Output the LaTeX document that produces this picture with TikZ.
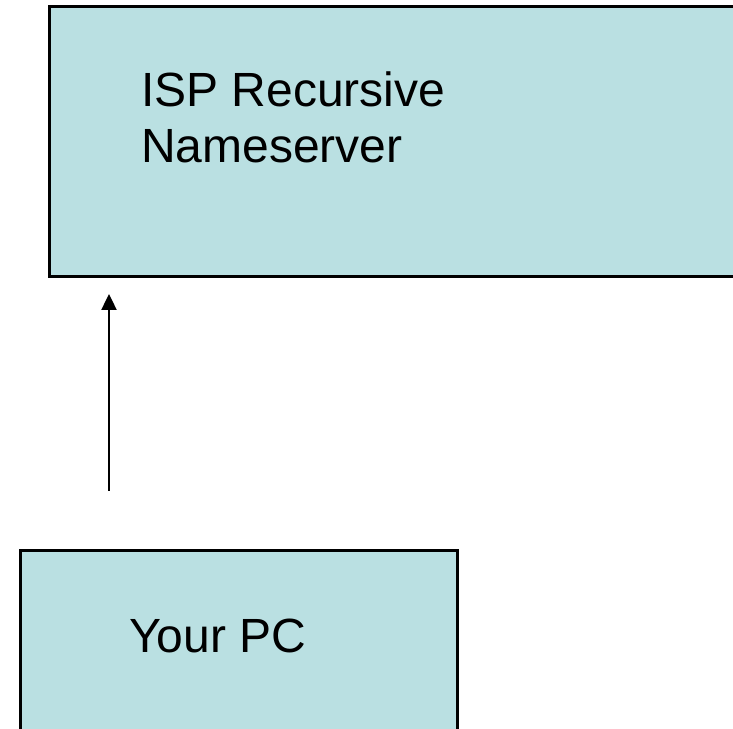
\documentclass[tikz,border=0pt]{standalone}
\usepackage{fontspec}
\setmainfont{Liberation Sans}
\usetikzlibrary{arrows.meta}
\definecolor{boxfill}{HTML}{BAE0E2}
\tikzset{
  boxstyle/.style={draw=black, fill=boxfill, line width=3pt, rectangle, inner sep=0pt},
  label/.style={font=\fontsize{48}{56}\selectfont, inner sep=0pt, anchor=base west},
  arr/.style={line width=2.4pt, -{Triangle[length=16pt,width=15pt]}}
}
\begin{document}
\begin{tikzpicture}[x=1pt,y=1pt]
\useasboundingbox (0,0) rectangle (733,728);
\clip (0,0) rectangle (733,728);
% top box: x 49..780, y(px) 7..277
\node[boxstyle, minimum width=731pt, minimum height=270pt] (isp) at (414.5, 586) {};
% bottom box: x 20..457, y(px) 551..760
\node[boxstyle, minimum width=437pt, minimum height=209pt] (pc) at (238.5, 72.5) {};
\node[label] (t1) at (141, 621) {ISP Recursive};
\node[label] (t2) at (141, 565) {Nameserver};
\node[label] (t3) at (129, 76) {Your PC};
\coordinate (from) at (109, 237);
\coordinate (to) at (109, 434);
\draw[arr] (from) -- (to);
\end{tikzpicture}
\end{document}
